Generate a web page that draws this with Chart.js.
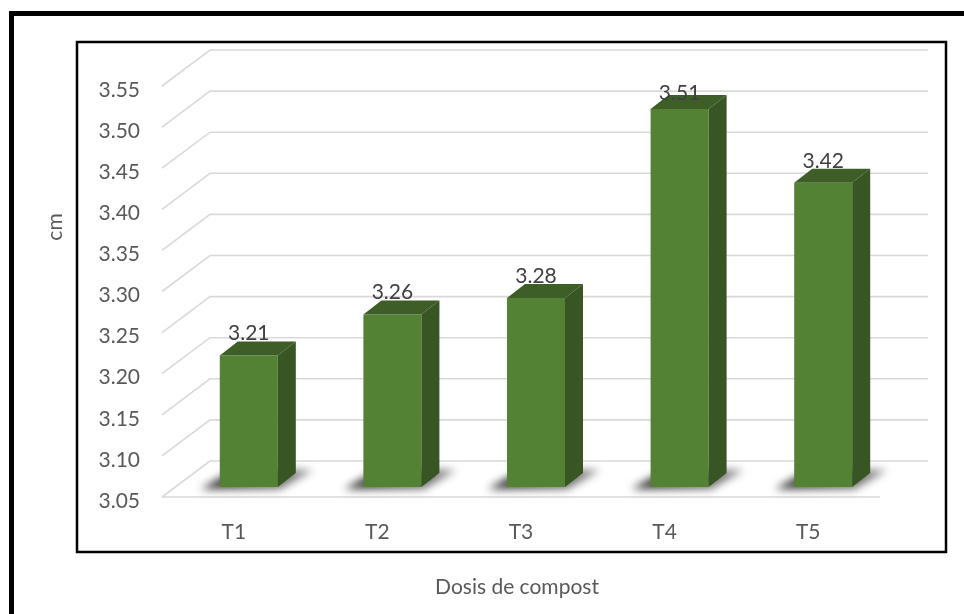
<!DOCTYPE html>
<html>
<head>
<meta charset="utf-8">
<script src="https://cdn.jsdelivr.net/npm/chart.js@4"></script>
<style>
  html, body { margin: 0; padding: 0; background: #fff; }
  canvas { display: block; }
</style>
</head>
<body>
<canvas id="chart-compost" width="964" height="614"></canvas>
<script>
var categories = ['T1', 'T2', 'T3', 'T4', 'T5'];
var heights = [3.21, 3.26, 3.28, 3.51, 3.42];
var yTicks = ['3.05', '3.10', '3.15', '3.20', '3.25', '3.30', '3.35', '3.40', '3.45', '3.50', '3.55'];
var xTitle = 'Dosis de compost';
var yTitle = 'cm';

var FONT = 'Lato, "Open Sans", sans-serif';
var DX = 18, DY = 14; // bar depth

// frames, gridlines on the 3d walls, floor shadows, 3d faces, value labels
var excel3d = {
  id: 'excel3d',
  beforeDraw: function(chart) {
    var ctx = chart.ctx;
    ctx.save();
    ctx.fillStyle = '#fff';
    ctx.fillRect(0, 0, chart.width, chart.height);
    ctx.strokeStyle = '#000';
    ctx.lineWidth = 5;
    ctx.beginPath();
    ctx.moveTo(11.5, 614);
    ctx.lineTo(11.5, 13.5);
    ctx.lineTo(964, 13.5);
    ctx.stroke();
    ctx.lineWidth = 2.5;
    ctx.strokeRect(77, 42, 869, 510);

    ctx.fillStyle = '#595959';
    ctx.font = '21px ' + FONT;
    ctx.textAlign = 'center';
    ctx.textBaseline = 'middle';
    ctx.fillText(xTitle, 517, 587);
    ctx.translate(55, 227);
    ctx.rotate(-Math.PI / 2);
    ctx.fillText(yTitle, 0, 0);
    ctx.restore();
  },
  beforeDatasetsDraw: function(chart) {
    var ctx = chart.ctx, area = chart.chartArea, y = chart.scales.y;
    var frontL = area.left - 15, backL = area.left + 33, backR = area.right + 33;
    ctx.save();
    ctx.strokeStyle = '#d9d9d9';
    ctx.lineWidth = 1.6;
    yTicks.forEach(function(t) {
      var py = y.getPixelForValue(parseFloat(t));
      ctx.beginPath();
      ctx.moveTo(frontL, py + 10);
      ctx.lineTo(backL, py - 26);
      ctx.lineTo(backR, py - 26);
      ctx.stroke();
    });
    var floorY = y.getPixelForValue(parseFloat(yTicks[0])) + 10;
    ctx.beginPath();
    ctx.moveTo(frontL, floorY);
    ctx.lineTo(area.right - 15, floorY);
    ctx.stroke();

    // soft shadows on the floor
    var meta = chart.getDatasetMeta(0);
    ctx.filter = 'blur(4px)';
    meta.data.forEach(function(bar) {
      var l = bar.x - bar.width / 2, r = bar.x + bar.width / 2, b = bar.base;
      var g = ctx.createLinearGradient(l - 19, b, r + 35, b - 17);
      g.addColorStop(0, 'rgba(15,15,15,0.9)');
      g.addColorStop(1, 'rgba(60,60,60,0.6)');
      ctx.fillStyle = g;
      ctx.beginPath();
      ctx.moveTo(l - 19, b + 2);
      ctx.lineTo(r + 2, b + 2);
      ctx.lineTo(r + 35, b - 17);
      ctx.lineTo(l + 14, b - 17);
      ctx.closePath();
      ctx.fill();
    });
    ctx.restore();
  },
  afterDatasetsDraw: function(chart) {
    var ctx = chart.ctx, area = chart.chartArea;
    var meta = chart.getDatasetMeta(0);
    ctx.save();
    meta.data.forEach(function(bar, i) {
      var l = bar.x - bar.width / 2, r = bar.x + bar.width / 2;
      ctx.fillStyle = '#3d5f27';
      ctx.beginPath();
      ctx.moveTo(l, bar.y);
      ctx.lineTo(r, bar.y);
      ctx.lineTo(r + DX, bar.y - DY);
      ctx.lineTo(l + DX, bar.y - DY);
      ctx.closePath();
      ctx.fill();
      ctx.fillStyle = '#375623';
      ctx.beginPath();
      ctx.moveTo(r, bar.y);
      ctx.lineTo(r + DX, bar.y - DY);
      ctx.lineTo(r + DX, bar.base - DY);
      ctx.lineTo(r, bar.base);
      ctx.closePath();
      ctx.fill();

      ctx.fillStyle = '#404040';
      ctx.font = '21px ' + FONT;
      ctx.textAlign = 'center';
      ctx.textBaseline = 'middle';
      var ly = Math.max(bar.y - 22, area.top + 17);
      ctx.fillText(heights[i].toFixed(2), bar.x, ly);
    });
    ctx.restore();
  }
};

new Chart(document.getElementById('chart-compost').getContext('2d'), {
  type: 'bar',
  data: {
    labels: categories,
    datasets: [{
      data: heights,
      base: parseFloat(yTicks[0]),
      backgroundColor: '#548235',
      borderWidth: 0,
      categoryPercentage: 1,
      barPercentage: 0.404
    }]
  },
  options: {
    responsive: false,
    devicePixelRatio: 1,
    animation: false,
    layout: { padding: { top: 76, right: 69, bottom: 0, left: 0 } },
    plugins: {
      legend: { display: false },
      tooltip: { enabled: false }
    },
    scales: {
      y: {
        min: 3.05,
        max: 3.55,
        afterFit: function(s) { s.width = 177; },
        afterBuildTicks: function(s) {
          s.ticks = yTicks.map(function(t) { return { value: parseFloat(t) }; });
        },
        ticks: {
          callback: function(v) { return v.toFixed(2); },
          padding: 37,
          labelOffset: 14,
          color: '#595959',
          font: { family: FONT, size: 21 }
        },
        grid: { display: false, drawTicks: false },
        border: { display: false }
      },
      x: {
        afterFit: function(s) { s.height = 127; },
        ticks: {
          padding: 33,
          labelOffset: -15,
          color: '#595959',
          font: { family: FONT, size: 21 }
        },
        grid: { display: false, drawTicks: false },
        border: { display: false }
      }
    }
  },
  plugins: [excel3d]
});
</script>
</body>
</html>
